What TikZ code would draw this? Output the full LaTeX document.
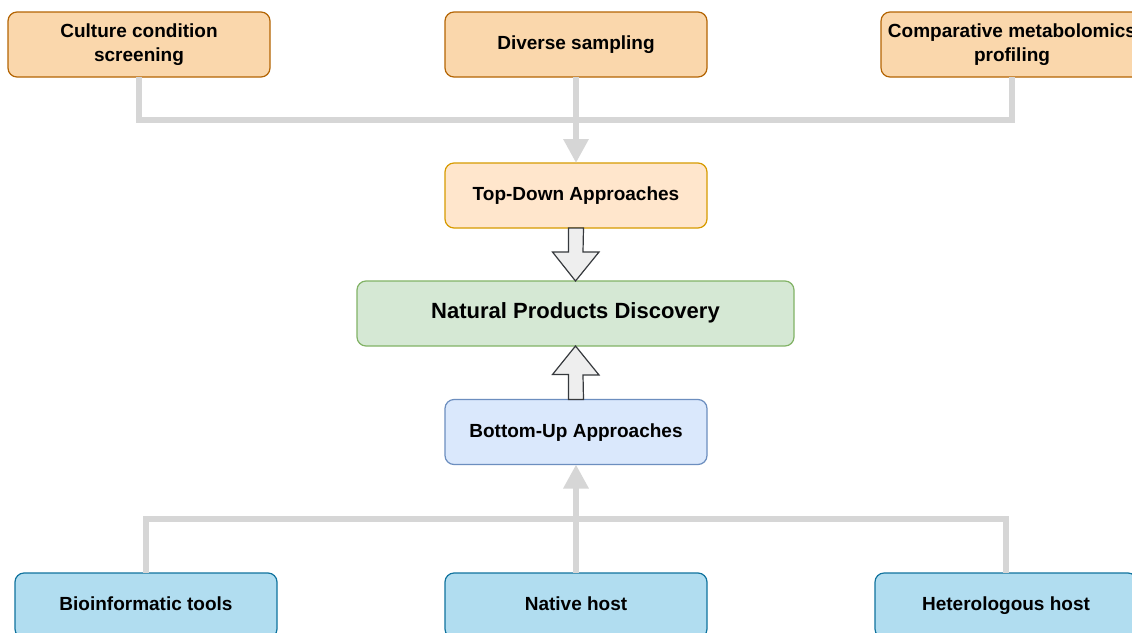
\documentclass[tikz,border=0pt]{standalone}
\usepackage{fontspec}
\setmainfont{Liberation Sans}
\usepackage{xcolor}
\usepackage{tikz}
\usetikzlibrary{positioning,arrows.meta,calc}
\definecolor{screenfill}{HTML}{FAD7AC}
\definecolor{screendraw}{HTML}{B46504}
\definecolor{topfill}{HTML}{FFE6CC}
\definecolor{topdraw}{HTML}{D79B00}
\definecolor{npfill}{HTML}{D5E8D4}
\definecolor{npdraw}{HTML}{82B366}
\definecolor{bottomfill}{HTML}{DAE8FC}
\definecolor{bottomdraw}{HTML}{6C8EBF}
\definecolor{hostfill}{HTML}{B1DDF0}
\definecolor{hostdraw}{HTML}{10739E}
\definecolor{linkgray}{HTML}{D6D6D6}
\definecolor{blockfill}{HTML}{EEEEEE}
\definecolor{blockdraw}{HTML}{36393D}
\tikzset{
    box/.style={rectangle, rounded corners=9pt, line width=1.2pt, minimum width=262pt, minimum height=65pt, outer sep=0pt, inner sep=2pt, align=center, font=\bfseries\fontsize{19}{24}\selectfont},
    one line/.style={text height=14pt, text depth=4pt},
    top method/.style={box, fill=screenfill, draw=screendraw},
    top approach/.style={box, one line, fill=topfill, draw=topdraw},
    np box/.style={box, one line, fill=npfill, draw=npdraw, minimum width=437pt, font=\bfseries\fontsize{22}{26}\selectfont},
    bottom approach/.style={box, one line, fill=bottomfill, draw=bottomdraw},
    bottom method/.style={box, one line, fill=hostfill, draw=hostdraw},
    feed line/.style={draw=linkgray, line width=6pt},
    feed arrow/.style={feed line, -{Triangle[length=24pt, width=24pt]}},
    block arrow/.style={fill=blockfill, draw=blockdraw, line width=1.2pt, line join=miter}
}
\begin{document}
\begin{tikzpicture}[x=1pt, y=-1pt]
    \clip (0,0) rectangle (1132,632);
    \fill[white] (0,0) rectangle (1132,632);

    % Top-down methods
    \node[top method] (culture) at (139,44.5) {Culture condition\\screening};
    \node[top method, one line] (sampling) at (576,44.5) {Diverse sampling};
    \node[top method] (profiling) at (1012,44.5) {Comparative metabolomics\\profiling};

    % Approaches and discovery
    \node[top approach] (topdown) at (576,195.5) {Top-Down Approaches};
    \node[np box] (discovery) at (575.5,313.5) {Natural Products Discovery};
    \node[bottom approach] (bottomup) at (576,432) {Bottom-Up Approaches};

    % Bottom-up methods
    \node[bottom method] (bioinfo) at (146,605.5) {Bioinformatic tools};
    \node[bottom method] (native) at (576,605.5) {Native host};
    \node[bottom method] (hetero) at (1006,605.5) {Heterologous host};

    % Top links
    \draw[feed line] (culture.south) -- ++(0,43) -| (profiling.south);
    \draw[feed arrow] (sampling.south) -- (topdown.north);

    % Bottom links
    \draw[feed line] (bioinfo.north) -- ++(0,-54) -| (hetero.north);
    \draw[feed arrow] (native.north) -- (bottomup.south);

    % Block arrows
    \draw[block arrow] ($(topdown.south)+(-7.5,0)$) -- ++(0,24) -- ++(-16,0)
        -- (discovery.north) -- ++(23.5,-29) -- ++(-16,0) -- ($(topdown.south)+(7.5,0)$) -- cycle;
    \draw[block arrow] ($(bottomup.north)+(-7.5,0)$) -- ++(0,-25) -- ++(-16,0)
        -- (discovery.south) -- ++(23.5,29) -- ++(-16,0) -- ($(bottomup.north)+(7.5,0)$) -- cycle;
\end{tikzpicture}
\end{document}
